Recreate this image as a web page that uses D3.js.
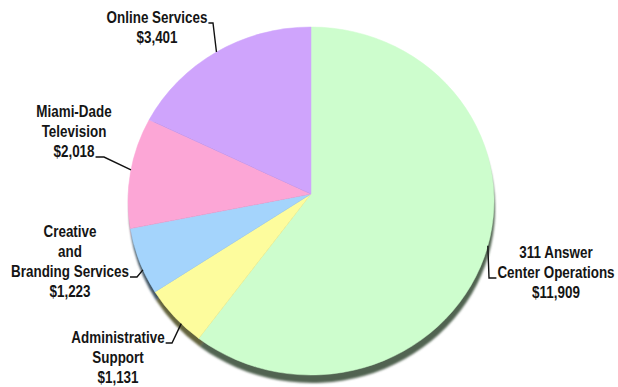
<!DOCTYPE html>
<html>
<head>
<meta charset="utf-8">
<script src="https://cdn.jsdelivr.net/npm/d3@7"></script>
<style>
  html, body { margin: 0; padding: 0; background: #fff; }
  svg { display: block; }
  .pie-label {
    font-family: 'Liberation Sans', Arial, sans-serif;
    font-weight: bold;
    font-size: 16px;
    fill: #151515;
  }
  .pie-leader { fill: none; stroke: #111; stroke-width: 1.4; }
</style>
</head>
<body>
<div id="chart"></div>
<script>
// slice data, clockwise from 12 o'clock
const categories = ['311 Answer Center Operations', 'Administrative Support', 'Creative and Branding Services', 'Miami-Dade Television', 'Online Services'];
const values = [11909, 1131, 1223, 2018, 3401];
const labelLines = [
  ['311 Answer', 'Center Operations'],
  ['Administrative', 'Support'],
  ['Creative', 'and', 'Branding Services'],
  ['Miami-Dade', 'Television'],
  ['Online Services']
];
const colors = ['#cdfdcd', '#fdfc9d', '#a4d4fc', '#fca6d6', '#cfa4fc'];

const width = 618;
const height = 387;

// ellipse geometry of the (slightly tilted) pie
const pie3d = { cx: 311, cy: 201, rx: 183, ry: 174, apexY: 194, depthX: 1, depthY: 8 };

// label layout: text centre x, first baseline, leader elbow, which line the leader hangs on
const labelLayout = [
  { x: 556, y: 258, side: 'start', line: 1, elbow: [[489, 278]], angleShift: -4 },
  { x: 118, y: 343, side: 'end', line: 0, elbow: [[172, 343]], angleShift: -3 },
  { x: 70, y: 237, side: 'end', line: 2, elbow: [[137, 277]], angleShift: -3 },
  { x: 74, y: 117, side: 'end', line: 2, elbow: [[104, 157]], angleShift: 1 },
  { x: 157, y: 23, side: 'end', line: 0, elbow: [[213, 23]], angleShift: 0 }
];
const lineHeight = 20;
const narrow = 0.84; // the original uses a condensed face

const svg = d3.select('#chart').append('svg')
  .attr('width', width)
  .attr('height', height);

const defs = svg.append('defs');
defs.append('filter').attr('id', 'soft')
  .append('feGaussianBlur').attr('stdDeviation', 0.8);

const slices = d3.pie().sort(null).value((d) => d)(values);

const rim = (angle) => [
  pie3d.cx + pie3d.rx * Math.sin(angle),
  pie3d.cy - pie3d.ry * Math.cos(angle)
];

const slicePath = (d) => {
  const p0 = rim(d.startAngle);
  const p1 = rim(d.endAngle);
  const large = d.endAngle - d.startAngle > Math.PI ? 1 : 0;
  return `M${pie3d.cx},${pie3d.apexY}L${p0[0]},${p0[1]}A${pie3d.rx},${pie3d.ry} 0 ${large} 1 ${p1[0]},${p1[1]}Z`;
};

// side wall / depth layer
svg.append('g')
  .attr('transform', `translate(${pie3d.depthX},${pie3d.depthY})`)
  .attr('filter', 'url(#soft)')
  .selectAll('path')
  .data(slices)
  .join('path')
  .attr('d', slicePath)
  .attr('fill', (d, i) => d3.color(colors[i]).darker(2.6));

// top faces
svg.append('g')
  .selectAll('path')
  .data(slices)
  .join('path')
  .attr('d', slicePath)
  .attr('fill', (d, i) => colors[i])
  .attr('stroke', (d, i) => colors[i])
  .attr('stroke-width', 0.5);

const fmt = d3.format('$,');

const labels = svg.append('g');

slices.forEach((d, i) => {
  const layout = labelLayout[i];
  const lines = labelLines[i].concat([fmt(values[i])]);

  const text = labels.append('text')
    .attr('class', 'pie-label')
    .attr('text-anchor', 'middle')
    .attr('transform', `translate(${layout.x},0) scale(${narrow},1)`);

  lines.forEach((line, k) => {
    text.append('tspan')
      .attr('x', 0)
      .attr('y', layout.y + k * lineHeight)
      .text(line);
  });

  // leader from the text line to the slice rim
  const tspan = text.selectAll('tspan').nodes()[layout.line];
  const box = tspan.getBBox();
  const baseline = layout.y + layout.line * lineHeight;
  const startX = layout.side === 'start'
    ? layout.x + box.x * narrow - 1
    : layout.x + (box.x + box.width) * narrow + 1;
  const mid = (d.startAngle + d.endAngle) / 2 + layout.angleShift * Math.PI / 180;
  const end = rim(mid);

  const points = [[startX, baseline]].concat(layout.elbow, [end]);
  labels.append('path')
    .attr('class', 'pie-leader')
    .attr('d', d3.line()(points));
});
</script>
</body>
</html>
